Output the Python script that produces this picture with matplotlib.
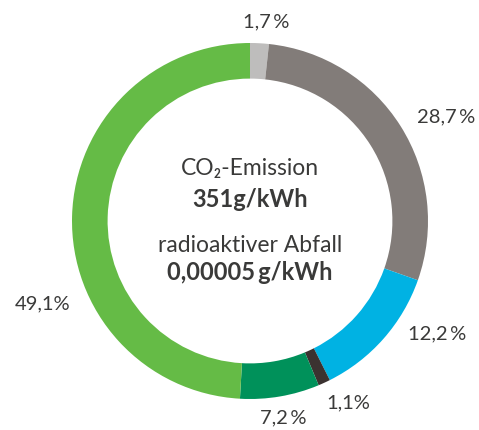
import matplotlib.pyplot as plt

# shares of the ring, clockwise from the top
shares = [1.7, 28.7, 12.2, 1.1, 7.2, 49.1]
labels = ["1,7\u2009%", "28,7\u2009%", "12,2\u2009%", "1,1%", "7,2\u2009%", "49,1%"]
colors = ["#bebdbc", "#827c79", "#00b2e3", "#3b3230", "#00915a", "#65bb46"]

# label placement (data units, ring radius = 1)
label_pos = [(0.09, 1.118), (1.101, 0.584), (1.051, -0.635),
             (0.551, -1.022), (0.185, -1.107), (-1.163, -0.466)]

plt.rcParams['font.family'] = ['Lato', 'DejaVu Sans']
txt_col = "#3a3a39"

fig = plt.figure(figsize=(4.79, 4.30), dpi=100)
ax = fig.add_axes([0, 0, 1, 1])
ax.pie(shares, colors=colors, startangle=90, counterclock=False,
       radius=1.0, wedgeprops=dict(width=0.2, linewidth=0))

for lab, (x, y) in zip(labels, label_pos):
    ax.text(x, y, lab, ha='center', va='center', fontsize=14.5,
            color=txt_col)

ax.text(0, 0.258, "CO\u2082-Emission", ha='center', va='baseline',
        fontsize=16.5, color=txt_col)
ax.text(0, 0.079, "351g/kWh", ha='center', va='baseline',
        fontsize=17, color=txt_col, fontweight='bold')
ax.text(0, -0.174, "radioaktiver Abfall", ha='center', va='baseline',
        fontsize=16.5, color=txt_col)
ax.text(0, -0.331, "0,00005\u2009g/kWh", ha='center', va='baseline',
        fontsize=17, color=txt_col, fontweight='bold')

ax.set_xlim(-250 / 178, 229 / 178)
ax.set_ylim(-209 / 178, 221 / 178)
ax.axis('off')

fig.savefig("out.png", dpi=100)
